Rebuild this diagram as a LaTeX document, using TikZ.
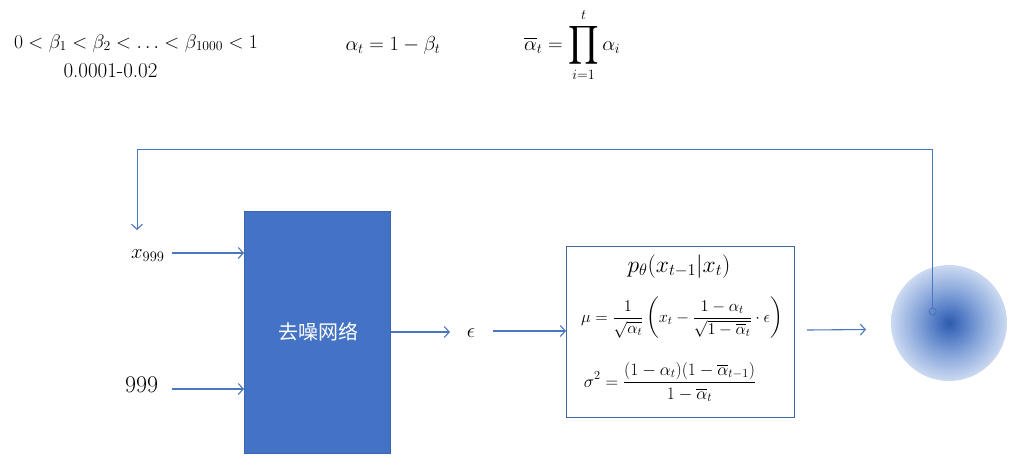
\RequirePackage{fix-cm}
\documentclass[tikz,border=0pt]{standalone}
\usepackage{amsmath}
\usepackage{graphicx}
\usepackage{fontspec}
\newfontfamily\cjk{Noto Sans CJK SC}
\usetikzlibrary{arrows.meta}
\definecolor{lineblue}{HTML}{4A76C0}
\definecolor{netblue}{HTML}{4472C4}
\definecolor{netedge}{HTML}{3A65B0}
\definecolor{boxedge}{HTML}{41689C}
\definecolor{blobc}{HTML}{2C5AAA}
\definecolor{blobm1}{HTML}{4C76C2}
\definecolor{blobm2}{HTML}{8EABDD}
\definecolor{bloboe}{HTML}{CCDAF1}
\pgfdeclareradialshading{blob}{\pgfpoint{0bp}{0bp}}{color(0bp)=(blobc); color(5bp)=(blobm1); color(15bp)=(blobm2); color(25bp)=(bloboe); color(50bp)=(bloboe)}
\begin{document}
\begin{tikzpicture}[x=1pt,y=-1pt,
  arr/.style={draw=lineblue, line width=1.1pt, -{Straight Barb[length=5pt,width=11pt,line width=1.1pt]}},
  txt/.style={inner sep=0pt, font=\fontsize{20.3}{24}\selectfont},
]
\useasboundingbox (0,0) rectangle (1031,475);

% top formulas
\node[inner sep=0pt, font=\fontsize{19.6}{24}\selectfont, anchor=base] (beta) at (136,48) {$0<\beta_1<\beta_2<\ldots<\beta_{1000}<1$};
\node[inner sep=0pt, font=\fontsize{21}{25}\selectfont, anchor=base] (range) at (110.5,77) {0.0001-0.02};
\node[txt, anchor=base] (alpha) at (393,50) {$\alpha_t=1-\beta_t$};
\node[txt, anchor=base west] (abar) at (524,50) {$\displaystyle\overline{\alpha}_t=\mathop{\vcenter{\hbox{\scalebox{1.15}[1.3]{$\displaystyle\prod$}}}}\limits_{i=1}^{t}\alpha_i$};

% inputs
\node[inner sep=0pt, font=\fontsize{20.7}{25}\selectfont, anchor=base west] (x999) at (131,258) {$x_{999}$};
\node[inner sep=0pt, font=\fontsize{24}{28}\selectfont, anchor=base west] (t999) at (125,392) {999};

% network
\node[draw=netedge, fill=netblue, line width=0.8pt, minimum width=146pt, minimum height=242pt, anchor=north west, inner sep=0pt] (net) at (244,211) {};
\node[inner sep=0pt, text=white, font=\cjk\fontsize{20}{24}\selectfont] (netlabel) at (318,332) {去噪网络};

\node[inner sep=0pt, font=\fontsize{20.7}{24}\selectfont, anchor=base] (eps) at (471,337) {$\epsilon$};

% formula box
\node[draw=boxedge, line width=1pt, minimum width=228pt, minimum height=171pt, anchor=north west, inner sep=0pt] (fbox) at (566,246) {};
\node[inner sep=0pt, font=\fontsize{23.5}{27}\selectfont, anchor=base] (pth) at (679,272) {$p_\theta(x_{t-1}|x_t)$};
\node[inner sep=0pt, font=\fontsize{16.4}{19}\selectfont] (mu) at (682,318) {$\displaystyle\mu=\frac{1}{\sqrt{\alpha_t}}\left(x_t-\frac{1-\alpha_t}{\sqrt{1-\overline{\alpha}_t}}\cdot\epsilon\right)$};
\node[inner sep=0pt, font=\fontsize{17.5}{20}\selectfont] (sig) at (670,382) {$\displaystyle\sigma^2=\frac{(1-\alpha_t)(1-\overline{\alpha}_{t-1})}{1-\overline{\alpha}_t}$};

% blob
\node[circle, minimum size=116pt, inner sep=0pt, shading=blob] (blob) at (949,323) {};
\node[circle, draw=lineblue, line width=1pt, minimum size=7pt, inner sep=0pt] (dot) at (932.7,311.5) {};

% arrows
\coordinate (a1) at (172,253);
\draw[arr] (a1) -- (a1 -| net.west);
\coordinate (a2) at (172,389);
\draw[arr] (a2) -- (a2 -| net.west);
\coordinate (a3) at (450,332);
\draw[arr] (a3 -| net.east) -- (a3);
\coordinate (a4) at (493,331);
\draw[arr] (a4) -- (a4 -| fbox.west);
\coordinate (a5s) at (807,330);
\coordinate (a5e) at (866,329.5);
\draw[arr] (a5s) -- (a5e);

% feedback
\coordinate (corner) at (137,149.5);
\coordinate (fbend) at (137,230);
\draw[arr, line width=1pt] (dot.north) |- (corner) -- (fbend);
\end{tikzpicture}
\end{document}
